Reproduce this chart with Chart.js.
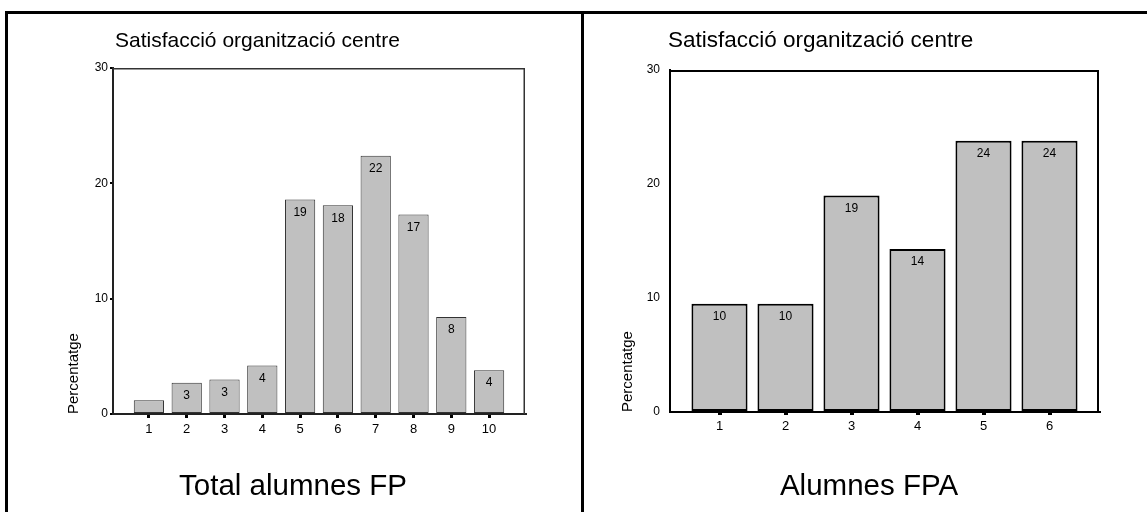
<!DOCTYPE html>
<html><head><meta charset="utf-8">
<script src="https://cdn.jsdelivr.net/npm/chart.js@4.4.1/dist/chart.umd.min.js"></script>
<style>
html,body{margin:0;padding:0;background:#fff;}
body{width:1147px;height:512px;position:relative;overflow:hidden;}
.ln{position:absolute;background:#000;}
.cv{position:absolute;top:0;}
</style></head><body>
<div class="ln" style="left:5px;top:11px;width:1142px;height:3px"></div>
<div class="ln" style="left:5px;top:11px;width:3px;height:501px"></div>
<div class="ln" style="left:581px;top:11px;width:3px;height:501px"></div>
<div class="cv" style="left:0;width:581px;height:512px"><canvas id="c1" width="581" height="512"></canvas></div>
<div class="cv" style="left:584px;width:563px;height:512px"><canvas id="c2" width="563" height="512"></canvas></div>
<script>
const chartTitle = "Satisfacció organització centre";
const yAxisTitle = "Percentatge";
const yTickValues = [0, 10, 20, 30];

const totalCategories = [1, 2, 3, 4, 5, 6, 7, 8, 9, 10];
const totalValues = [1.2, 2.7, 3.0, 4.2, 18.6, 18.1, 22.4, 17.3, 8.4, 3.8];
const totalLabels = ["", "3", "3", "4", "19", "18", "22", "17", "8", "4"];
const totalCaption = "Total alumnes FP";

const fpaCategories = [1, 2, 3, 4, 5, 6];
const fpaValues = [9.5, 9.5, 19.0, 14.3, 23.8, 23.8];
const fpaLabels = ["10", "10", "19", "14", "24", "24"];
const fpaCaption = "Alumnes FPA";

const FONT = "'Liberation Sans', Arial, sans-serif";

function makeChart(canvasId, cats, vals, labs, caption, g) {
  const textPlugin = {
    id: 'texts',
    afterDraw(chart) {
      const ctx = chart.ctx;
      const a = chart.chartArea;
      ctx.save();
      ctx.strokeStyle = g.frameColor;
      ctx.lineWidth = g.frameWidth;
      ctx.beginPath();
      ctx.moveTo(a.left, a.top + g.frameWidth / 2);
      ctx.lineTo(a.right - g.frameWidth / 2, a.top + g.frameWidth / 2);
      ctx.lineTo(a.right - g.frameWidth / 2, a.bottom);
      ctx.stroke();
      const meta = chart.getDatasetMeta(0);
      ctx.fillStyle = '#000';
      ctx.font = g.valueFont + 'px ' + FONT;
      ctx.textAlign = 'center';
      ctx.textBaseline = 'middle';
      meta.data.forEach((bar, i) => {
        if (labs[i]) ctx.fillText(labs[i], bar.x, bar.y + g.valueOffset);
      });
      ctx.font = g.titleFont + 'px ' + FONT;
      ctx.textAlign = 'left';
      ctx.fillText(chartTitle, g.titleX, g.titleY);
      ctx.font = g.captionFont + 'px ' + FONT;
      ctx.textAlign = 'center';
      ctx.fillText(caption, g.captionX, g.captionY);
      ctx.restore();
    }
  };
  return new Chart(document.getElementById(canvasId), {
    type: 'bar',
    data: {
      datasets: [{
        data: cats.map((c, i) => ({x: c, y: vals[i]})),
        backgroundColor: '#c0c0c0',
        borderColor: g.barBorder,
        borderWidth: g.barBorderWidth,
        borderSkipped: false,
        barPercentage: g.barPct,
        categoryPercentage: 1
      }]
    },
    options: {
      responsive: false,
      animation: false,
      devicePixelRatio: 1,
      layout: {padding: g.padding},
      plugins: {legend: {display: false}, tooltip: {enabled: false}, title: {display: false}},
      scales: {
        x: {
          type: 'linear',
          offset: false,
          min: g.xMin, max: g.xMax,
          afterBuildTicks: s => { s.ticks = cats.map(v => ({value: v})); },
          afterFit: s => { s.height = 30; },
          ticks: {color: '#000', font: {family: FONT, size: 13}, padding: g.xPad, maxRotation: 0,
                  callback: v => String(v)},
          grid: {offset: false, drawOnChartArea: false, drawTicks: true, tickLength: g.xTickLen, lineWidth: g.xTickW,
                 color: '#000', tickColor: '#000'},
          border: {display: true, color: g.axisColor, width: g.axisWidth}
        },
        y: {
          min: 0, max: 30,
          afterBuildTicks: s => { s.ticks = yTickValues.map(v => ({value: v})); },
          afterFit: s => { s.width = g.yWidth; },
          ticks: {color: '#000', font: {family: FONT, size: 12}, padding: g.yPad},
          grid: {drawOnChartArea: false, drawTicks: g.yTicks, tickLength: 3, lineWidth: 2,
                 color: '#000', tickColor: '#000'},
          border: {display: true, color: g.axisColor, width: g.axisWidth},
          title: {display: true, text: yAxisTitle, align: 'start', color: '#000',
                  font: {family: FONT, size: 15}, padding: {top: g.yTitlePad, bottom: 0}}
        }
      }
    },
    plugins: [textPlugin]
  });
}

makeChart('c1', totalCategories, totalValues, totalLabels, totalCaption, {
  padding: {left: 0, right: 56, top: 68, bottom: 68},
  yWidth: 113, xMin: 0.05, xMax: 10.95, barPct: 0.8,
  barBorder: '#333', barBorderWidth: 1,
  frameColor: '#333', frameWidth: 1.5,
  axisColor: '#222', axisWidth: 2,
  xTickLen: 4, xTickW: 3, xPad: 4, yTicks: true, yPad: 2, yTitlePad: 65,
  valueFont: 12, valueOffset: 13,
  titleFont: 21, titleX: 115, titleY: 41,
  captionFont: 29.5, captionX: 293, captionY: 487
});

makeChart('c2', fpaCategories, fpaValues, fpaLabels, fpaCaption, {
  padding: {left: 0, right: 48, top: 70, bottom: 70},
  yWidth: 86, xMin: 0.25, xMax: 6.75, barPct: 0.85,
  barBorder: '#000', barBorderWidth: 2,
  frameColor: '#000', frameWidth: 2,
  axisColor: '#000', axisWidth: 2,
  xTickLen: 3, xTickW: 4, xPad: 4, yTicks: false, yPad: 10, yTitlePad: 35,
  valueFont: 12, valueOffset: 13,
  titleFont: 22.5, titleX: 84, titleY: 41,
  captionFont: 29.5, captionX: 285, captionY: 487
});
</script>
</body></html>
